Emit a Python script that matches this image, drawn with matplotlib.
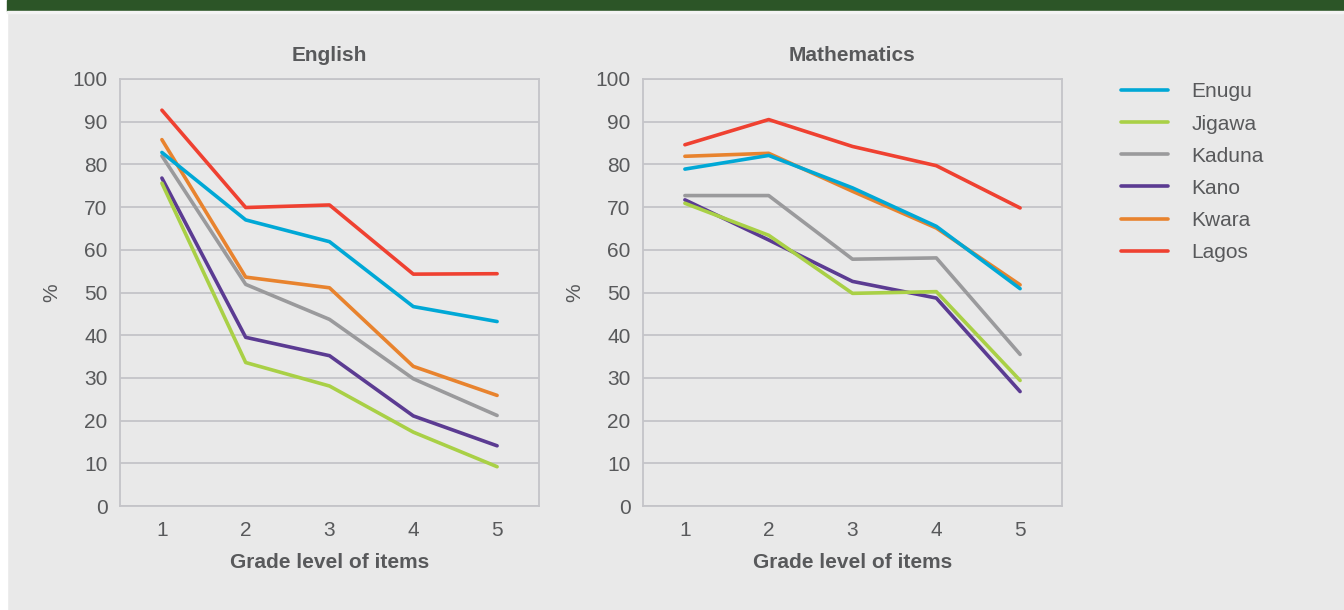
# Percent correct by grade level of items, English and Mathematics, by state
import matplotlib.pyplot as plt
from matplotlib.patches import Rectangle

plt.rcParams['font.family'] = ['Liberation Sans', 'DejaVu Sans']

grades = [1, 2, 3, 4, 5]
states = ['Enugu', 'Jigawa', 'Kaduna', 'Kano', 'Kwara', 'Lagos']
colors = ['#00a8d6', '#a9d046', '#9a9a9c', '#5b3b92', '#e8832e', '#ef4131']

english_enugu = [82.8, 67.0, 61.9, 46.7, 43.2]
english_jigawa = [75.6, 33.6, 28.1, 17.3, 9.2]
english_kaduna = [82.0, 51.9, 43.7, 29.8, 21.2]
english_kano = [76.8, 39.5, 35.2, 21.1, 14.1]
english_kwara = [85.8, 53.6, 51.1, 32.7, 25.9]
english_lagos = [92.7, 69.9, 70.5, 54.3, 54.4]

maths_enugu = [78.9, 82.1, 74.5, 65.5, 50.9]
maths_jigawa = [70.9, 63.4, 49.8, 50.2, 29.4]
maths_kaduna = [72.7, 72.7, 57.8, 58.1, 35.5]
maths_kano = [71.7, 62.3, 52.6, 48.7, 26.8]
maths_kwara = [81.9, 82.6, 73.7, 65.1, 51.8]
maths_lagos = [84.6, 90.5, 84.2, 79.7, 69.8]

english = [english_enugu, english_jigawa, english_kaduna, english_kano, english_kwara, english_lagos]
maths = [maths_enugu, maths_jigawa, maths_kaduna, maths_kano, maths_kwara, maths_lagos]

bg = '#e9e9e9'
text_col = '#58595b'
grid_col = '#c4c4c8'
fs = 15

fig = plt.figure(figsize=(13.44, 6.10), dpi=100, facecolor=bg)

# header bar and white strip on the left
fig.patches.append(Rectangle((0, 0), 0.0055, 1, transform=fig.transFigure, color='white', zorder=0))
fig.patches.append(Rectangle((0.0055, 1 - 11 / 610), 1, 11 / 610, transform=fig.transFigure,
                             color='#2c5527', zorder=1))
fig.patches.append(Rectangle((0.0055, 1 - 13 / 610), 1, 2 / 610, transform=fig.transFigure,
                             color='#f4f4f4', zorder=1))

ax1 = fig.add_axes([120 / 1344, 1 - 506 / 610, 419 / 1344, 427 / 610])
ax2 = fig.add_axes([643 / 1344, 1 - 506 / 610, 419 / 1344, 427 / 610])

for ax, data, title in [(ax1, english, 'English'), (ax2, maths, 'Mathematics')]:
    ax.set_facecolor(bg)
    # draw in reverse so Enugu ends up on top
    for i in range(len(states) - 1, -1, -1):
        ax.plot(grades, data[i], color=colors[i], lw=2.6, label=states[i],
                solid_capstyle='round', zorder=3 + len(states) - i)
    ax.set_xlim(0.5, 5.5)
    ax.set_ylim(0, 100)
    ax.set_yticks(range(0, 101, 10))
    ax.set_xticks(grades)
    ax.grid(axis='y', color=grid_col, lw=1.3)
    ax.set_axisbelow(True)
    for s in ax.spines.values():
        s.set_color(grid_col)
        s.set_linewidth(1.3)
    ax.tick_params(length=0, labelsize=fs, colors=text_col)
    ax.tick_params(axis='x', pad=11)
    ax.tick_params(axis='y', pad=9)
    ax.set_title(title, fontsize=fs, fontweight='bold', color=text_col, pad=13)
    ax.set_xlabel('Grade level of items', fontsize=fs, fontweight='bold', color=text_col, labelpad=9)
    ax.set_ylabel('%', fontsize=fs, color=text_col, labelpad=8)

handles, labels = ax2.get_legend_handles_labels()
order = sorted(range(len(labels)), key=lambda k: states.index(labels[k]))
fig.legend([handles[k] for k in order], [labels[k] for k in order],
           loc='upper left', bbox_to_anchor=(1111 / 1344, 1 - 72 / 610),
           frameon=False, fontsize=fs, handlelength=2.25, handletextpad=1.1,
           labelspacing=0.63, borderpad=0, labelcolor=text_col)

plt.savefig('out.png', dpi=100, facecolor=bg)
